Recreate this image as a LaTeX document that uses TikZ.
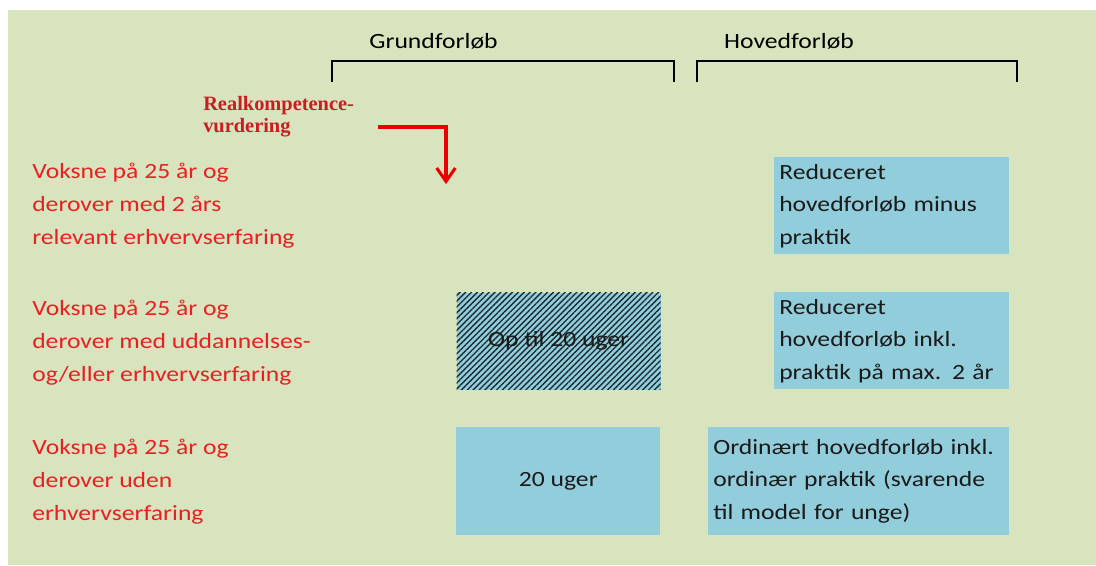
\documentclass[tikz,border=0pt]{standalone}
\usepackage{fontspec}
\setmainfont{Carlito}[FakeStretch=1.18]
\newfontfamily\rkfont{Liberation Serif}
\usetikzlibrary{arrows.meta,patterns.meta}
\definecolor{bggreen}{HTML}{D7E4BD}
\definecolor{boxblue}{HTML}{92CDDC}
\definecolor{redtxt}{RGB}{232,32,36}
\definecolor{rkred}{RGB}{200,30,35}
\definecolor{arrred}{RGB}{235,0,0}
\definecolor{boxtxt}{HTML}{1A1A1A}
\definecolor{hatch}{HTML}{1A2A30}
\newcommand{\px}{0.75pt}
\newcommand{\bodyfont}{\fontsize{16.3pt}{24.4pt}\selectfont}
\begin{document}
\begin{tikzpicture}[x=0.75pt,y=-0.75pt,
  lbl/.style={font=\bodyfont, text=redtxt, align=left, inner sep=0pt, anchor=base west},
  hdr/.style={font=\bodyfont, text=black, inner sep=0pt, anchor=base},
  bracket/.style={draw=black, line width=1.5pt},
  bluebox/.style={fill=boxblue, inner sep=0pt, font=\bodyfont, text=boxtxt, anchor=north west},
  leftbox/.style={bluebox, align=left, text width={(#1-10)*\px}, minimum width={#1*\px}},
  rkarrow/.style={draw=arrred, line width=2.3pt, -{Straight Barb[length=10pt,width=14pt]}},
]
% background
\fill[white] (0,0) rectangle (1096,565);
\fill[bggreen] (8,10) rectangle (1096,565);

% headers and brackets
\node[hdr] (grund) at (433.5,48) {Grundforløb};
\node[hdr] (hoved) at (789,48) {Hovedforløb};
\draw[bracket] (332,82) -- (332,61) -- (674,61) -- (674,82);
\draw[bracket] (697,82) -- (697,61) -- (1017,61) -- (1017,82);

% realkompetence label and arrow (base anchor = last line baseline)
\node[font=\rkfont\bfseries\fontsize{15.3pt}{15.8pt}\selectfont, text=rkred, align=left, inner sep=0pt, anchor=base west] (rk) at (203,132) {Realkompetence-\\vurdering};
\coordinate (as) at (378,127);
\coordinate (ae) at (446,184);
\draw[rkarrow] (as) -- (ae |- as) -- (ae);

% left labels
\node[lbl] (l1) at (32,244) {Voksne på 25 år og\\derover med 2 års\\relevant erhvervserfaring};
\node[lbl] (l2) at (32,381) {Voksne på 25 år og\\derover med uddannelses-\\og/eller erhvervserfaring};
\node[lbl] (l3) at (32,520) {Voksne på 25 år og\\derover uden\\erhvervserfaring};

% grundforloeb boxes
\node[bluebox, minimum width={204*\px}, minimum height={97*\px},
      preaction={fill=boxblue},
      pattern={Lines[angle=45,distance=3.1pt,line width=1pt]}, pattern color=hatch]
      (h2) at (456,292) {Op til 20 uger};
\node[bluebox, minimum width={204*\px}, minimum height={108*\px}] (g3) at (456,427) {20 uger};

% hovedforloeb boxes
\node[leftbox=235, minimum height={97*\px}] (a1) at (774,157) {Reduceret\\hovedforløb minus\\praktik};
\node[leftbox=235, minimum height={97*\px}] (a2) at (774,292) {Reduceret\\hovedforløb inkl.\\praktik på max. 2 år};
\node[leftbox=301, minimum height={108*\px}] (a3) at (708,427) {Ordinært hovedforløb inkl.\\ordinær praktik (svarende\\til model for unge)};
\end{tikzpicture}
\end{document}
